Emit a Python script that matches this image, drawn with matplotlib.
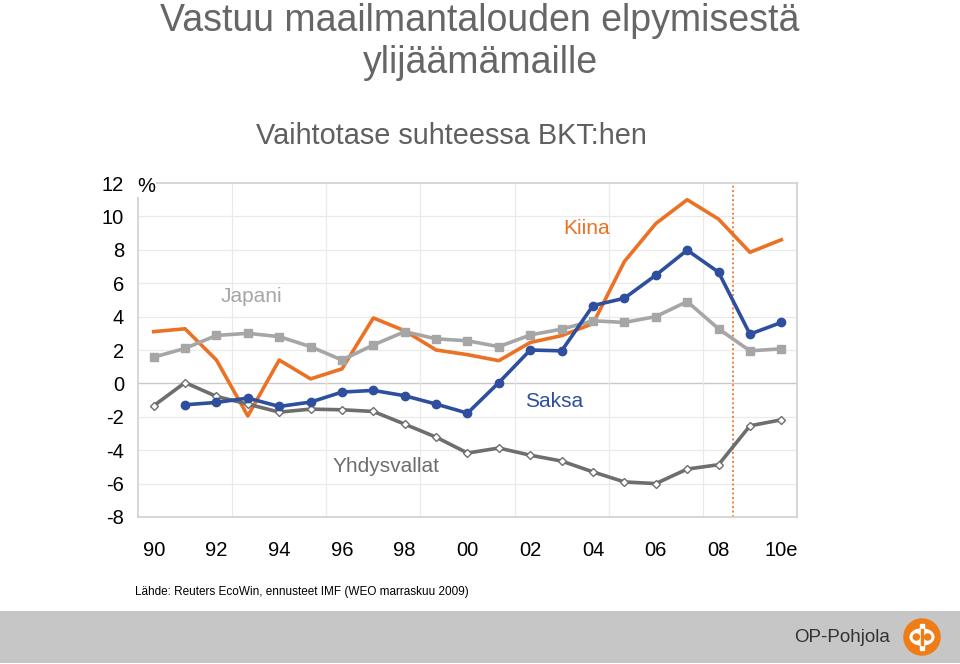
import numpy as np
import matplotlib
matplotlib.use('Agg')
from matplotlib import pyplot as plt
from matplotlib.patches import Rectangle, Circle, Ellipse

plt.rcParams['font.family'] = ['Liberation Sans', 'DejaVu Sans']

years = list(range(1990, 2011))
tick_labels = ['90', '92', '94', '96', '98', '00', '02', '04', '06', '08', '10e']

# Vaihtotase, % BKT:sta
kiina = [3.1, 3.27, 1.4, -1.95, 1.4, 0.27, 0.87, 3.92, 3.15, 2.0, 1.72, 1.36,
         2.45, 2.86, 3.58, 7.3, 9.57, 11.0, 9.84, 7.85, 8.6]
japani = [1.57, 2.1, 2.87, 3.0, 2.8, 2.2, 1.4, 2.3, 3.1, 2.67, 2.55, 2.2,
          2.9, 3.25, 3.75, 3.65, 4.0, 4.9, 3.27, 1.95, 2.07]
saksa = [np.nan, -1.28, -1.14, -0.88, -1.38, -1.12, -0.52, -0.42, -0.74, -1.24, -1.78,
         0.05, 2.0, 1.95, 4.66, 5.1, 6.48, 7.98, 6.66, 2.95, 3.65]
yhdysvallat = [-1.34, 0.05, -0.78, -1.24, -1.72, -1.54, -1.58, -1.68, -2.44, -3.22, -4.17,
               -3.87, -4.3, -4.65, -5.3, -5.9, -6.0, -5.13, -4.87, -2.54, -2.18]

fig = plt.figure(figsize=(9.6, 6.64), dpi=100)
ax = fig.add_axes([138/960, 1 - 517/664, 659/960, 334/664])

x = np.arange(len(years))
orange = '#EB7124'
blue = '#2E4F9E'
lgrey = '#A6A6A6'
dgrey = '#6E6E6E'

ax.plot(x, kiina, color=orange, lw=2.6, zorder=3)
ax.plot(x, japani, color=lgrey, lw=2.6, marker='s', ms=5.5, zorder=3)
ax.plot(x, yhdysvallat, color=dgrey, lw=2.6, marker='D', ms=4.5,
        mfc='white', mec=dgrey, mew=1.0, zorder=4)
ax.plot(x, saksa, color=blue, lw=2.6, marker='o', ms=6, zorder=5)

ax.axvline(18.45, color=orange, lw=1.3, ls=(0, (1, 1.5)), zorder=2)

ax.set_xlim(-0.5, 20.5)
ax.set_ylim(-8, 12)
ax.set_yticks(np.arange(-8, 13, 2))
ax.set_yticklabels([str(v) for v in range(-8, 13, 2)], fontsize=14.5)
ax.set_xticks(x[::2])
ax.set_xticklabels(tick_labels, fontsize=14.5)
ax.tick_params(length=0)
ax.tick_params(axis='y', pad=10)
ax.tick_params(axis='x', pad=17)

for yv in range(-6, 12, 2):
    if yv != 0:
        ax.axhline(yv, color='#EAEAEA', lw=0.9, zorder=1)
ax.axhline(0, color='#C8C8C8', lw=1.0, zorder=1)
for xv in [2.5, 5.5, 8.5, 11.5, 14.5, 17.5]:
    ax.axvline(xv, color='#EAEAEA', lw=0.9, zorder=1)
for s in ax.spines.values():
    s.set_color('#CFCFCF')
    s.set_linewidth(1.2)

ax.text(-0.25, 11.8, '%', fontsize=14.5, ha='center', va='center',
        bbox=dict(facecolor='white', edgecolor='none', pad=1), zorder=6)

ax.text(3.13, 5.19, 'Japani', color=lgrey, fontsize=15, ha='center', va='center')
ax.text(13.79, 9.3, 'Kiina', color=orange, fontsize=15, ha='center', va='center')
ax.text(12.76, -1.1, 'Saksa', color=blue, fontsize=15, ha='center', va='center')
ax.text(7.4, -5.0, 'Yhdysvallat', color=dgrey, fontsize=15, ha='center', va='center')

fig.text(0.5, 1 - 42/664, 'Vastuu maailmantalouden elpymisestä\nylijäämämaille',
         ha='center', va='center', fontsize=27, color='#666666', linespacing=1.2)
fig.text(0.47, 1 - 136/664, 'Vaihtotase suhteessa BKT:hen', ha='center', va='center',
         fontsize=20.8, color='#5F5F5F')

fig.text(135/960, 1 - 592/664, 'Lähde: Reuters EcoWin, ennusteet IMF (WEO marraskuu 2009)',
         ha='left', va='center', fontsize=8.5, color='black',
         family=['Liberation Sans Narrow', 'Liberation Sans'])

# alapalkki
fig.patches.append(Rectangle((0, 1/664), 1, 52/664, transform=fig.transFigure,
                             facecolor='#C6C6C6', edgecolor='none', zorder=-1))
fig.text(890/960, 1 - 637/664, 'OP-Pohjola', ha='right', va='center', fontsize=13.5,
         color='#333333', family=['Liberation Sans Narrow', 'Liberation Sans'])
lax = fig.add_axes([903/960, 1 - 656/664, 38/960, 38/664], zorder=5)
lax.set_xlim(-1, 1)
lax.set_ylim(-1, 1)
lax.set_aspect('equal')
lax.axis('off')
lax.add_patch(Circle((0, 0), 0.95, color='#F07C18'))
lax.add_patch(Ellipse((0, 0), 1.25, 0.85, color='white'))
lax.add_patch(Rectangle((-0.1, -0.7), 0.2, 1.4, color='white'))
lax.add_patch(Circle((-0.3, 0), 0.16, color='#F07C18'))
lax.add_patch(Circle((0.3, 0), 0.16, color='#F07C18'))
lax.add_patch(Rectangle((-0.04, -0.42), 0.08, 0.84, color='#F07C18'))

fig.savefig('out.png', dpi=100)
